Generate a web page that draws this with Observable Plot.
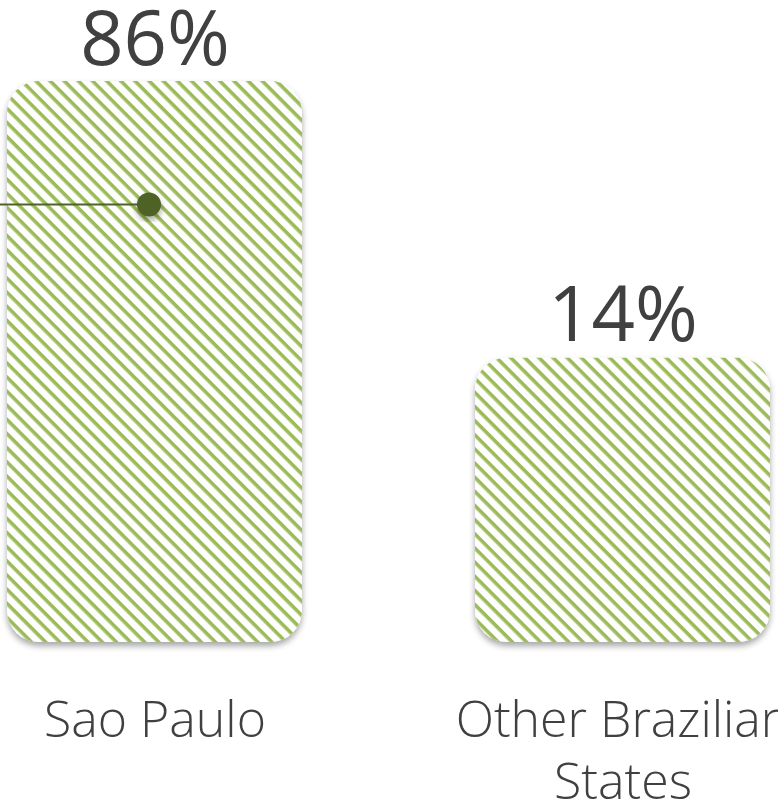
<!DOCTYPE html>
<html>
<head>
<meta charset="utf-8">
<script src="https://cdn.jsdelivr.net/npm/d3@7"></script>
<script src="https://cdn.jsdelivr.net/npm/@observablehq/plot@0.6"></script>
<style>
  html, body { margin: 0; padding: 0; background: #ffffff; }
  #chart { width: 778px; height: 808px; overflow: hidden; }
</style>
</head>
<body>
<div id="chart"></div>
<script>
// ---- data ----
const categories = ["Sao Paulo", "Other Brazilian States"];
const categoryLabels = ["Sao Paulo", "Other Brazilian\nStates"];
const shares = [86, 14];
const shareLabels = ["86%", "14%"];
const calloutCategory = ["Sao Paulo"];
const calloutValue = [54];
const barBaseline = -60;   // bars are drawn from this baseline (infographic scale)

const bars = categories.map((c, i) => ({
  category: c, axisLabel: categoryLabels[i], value: shares[i], label: shareLabels[i]
}));
const callout = calloutCategory.map((c, i) => ({category: c, value: calloutValue[i]}));

const green = "#9BBB59";
const dark = "#4F6228";
const textColor = "#404040";

const chart = Plot.plot({
  width: 778,
  height: 808,
  margin: 0,
  style: {fontFamily: "'Open Sans', sans-serif", background: "#ffffff"},
  x: {domain: categories, range: [7, 770], paddingInner: 0.37, paddingOuter: 0, axis: null},
  y: {domain: [barBaseline, 86], range: [642, 81], axis: null},
  marks: [
    Plot.barY(bars, {x: "category", y1: d => barBaseline, y2: "value", fill: "url(#stripes)", rx: 32}),
    Plot.text(bars, {x: "category", y: "value", text: "label", dy: -17, lineAnchor: "bottom",
      fontSize: 76, fill: textColor}),
    Plot.text(bars, {x: "category", y: d => barBaseline, text: "axisLabel", lineAnchor: "top",
      dy: 50, lineHeight: 1.24, fontSize: 50, fontWeight: 300, fill: textColor}),
    Plot.ruleY(callout, {y: "value", stroke: dark, strokeWidth: 2, insetRight: 630}),
    Plot.dot(callout, {x: "category", y: "value", r: 12, fill: dark, stroke: "none", dx: -6})
  ]
});

// pattern + shadow definitions
const svg = d3.select(chart);
const defs = svg.insert("defs", ":first-child");
const pat = defs.append("pattern")
  .attr("id", "stripes")
  .attr("patternUnits", "userSpaceOnUse")
  .attr("width", 10).attr("height", 10)
  .attr("patternTransform", "rotate(45)");
pat.append("rect").attr("width", 10).attr("height", 10).attr("fill", "#ffffff");
pat.append("rect").attr("width", 10).attr("height", 3.6).attr("fill", green);
const f = defs.append("filter").attr("id", "shadow")
  .attr("x", "-20%").attr("y", "-20%").attr("width", "140%").attr("height", "140%");
f.append("feDropShadow").attr("dx", 0).attr("dy", 4).attr("stdDeviation", 3)
  .attr("flood-color", "#000").attr("flood-opacity", 0.35);

svg.selectAll("g[aria-label='bar']").attr("filter", "url(#shadow)");
svg.selectAll("g[aria-label='dot']").attr("filter", "url(#shadow)");

document.getElementById("chart").appendChild(chart);
</script>
</body>
</html>
